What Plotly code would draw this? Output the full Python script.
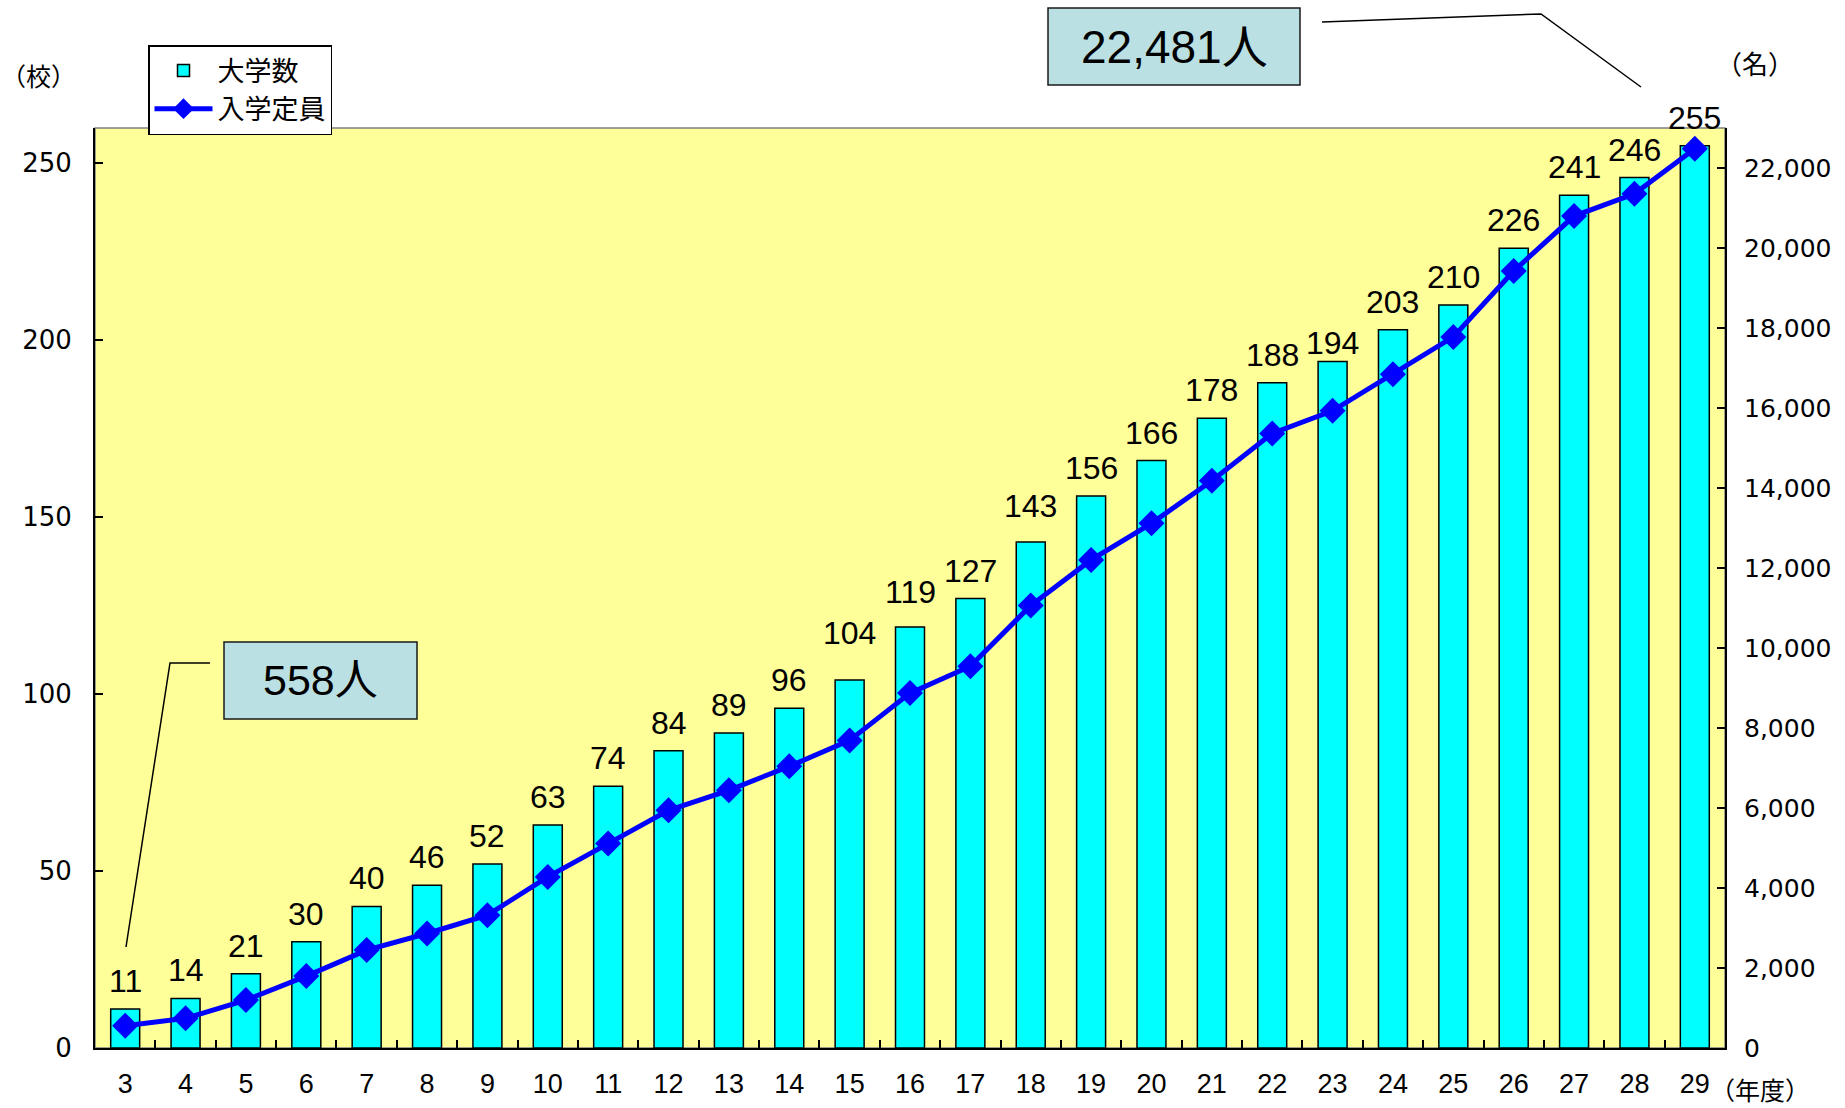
import plotly.graph_objects as go

# ---- data ----
years = ["3", "4", "5", "6", "7", "8", "9", "10", "11", "12", "13", "14", "15", "16",
         "17", "18", "19", "20", "21", "22", "23", "24", "25", "26", "27", "28", "29"]
universities = [11, 14, 21, 30, 40, 46, 52, 63, 74, 84, 89, 96, 104, 119,
                127, 143, 156, 166, 178, 188, 194, 203, 210, 226, 241, 246, 255]
enrollment = [558, 741, 1198, 1798, 2447, 2863, 3321, 4278, 5110, 5943, 6442, 7041, 7690, 8872,
              9546, 11061, 12202, 13117, 14182, 15364, 15930, 16846, 17778, 19426, 20799, 21356, 22481]
bar_name = "大学数"
line_name = "入学定員"
left_unit = "（校）"
right_unit = "（名）"
x_unit = "（年度）"
first_callout = "558人"
last_callout = "22,481人"

# ---- layout geometry (pixels) ----
W, H = 1845, 1108
PL, PR, PT, PB = 95, 1725, 128, 1048


def px(xp):
    return (xp - PL) / (PR - PL)


def py(yp):
    return (PB - yp) / (PB - PT)


CJK = "Noto Sans CJK JP, Noto Sans, sans-serif"
ARIAL = "Liberation Sans, Arial, Noto Sans CJK JP, sans-serif"

fig = go.Figure()
fig.add_trace(go.Bar(
    x=years, y=universities, name=bar_name,
    marker=dict(color="#00FFFF", line=dict(color="#000000", width=1.5)),
    yaxis="y",
))
fig.add_trace(go.Scatter(
    x=years, y=enrollment, name=line_name, mode="lines+markers",
    line=dict(color="#0000FF", width=5),
    marker=dict(symbol="diamond", size=20, color="#0000FF"),
    yaxis="y2",
))

annotations = []
# data labels above bars (small manual nudges as in the original)
nudge = {"15": 19, "16": 7, "18": 8, "23": -9}
for i, (x, v) in enumerate(zip(years, universities)):
    annotations.append(dict(
        x=i, y=v, xref="x", yref="y", text=str(v), showarrow=False,
        xanchor="center", yanchor="middle", yshift=28 + nudge.get(x, 0),
        font=dict(family=ARIAL, size=32, color="#000000"),
    ))


def label(xp, yp, text, family, size):
    return dict(x=px(xp), y=py(yp), xref="paper", yref="paper", text=text, showarrow=False,
                xanchor="center", yanchor="middle", font=dict(family=family, size=size, color="#000"))


# unit labels
annotations += [
    label(39, 75, left_unit, CJK, 25),
    label(1755, 62, right_unit, CJK, 26),
    label(1760, 1089, x_unit, CJK, 25),
]

# callout texts
annotations += [
    label(320, 680, first_callout, ARIAL, 43),
    label(1174, 47, last_callout,
          "Liberation Sans Narrow, Arial Narrow, Liberation Sans, Noto Sans CJK JP, sans-serif", 46),
]

shapes = [
    # plot-area border (gray)
    dict(type="rect", xref="paper", yref="paper", x0=0, x1=1, y0=0, y1=1,
         line=dict(color="#808080", width=1.5), layer="below"),
    # callout boxes
    dict(type="rect", xref="paper", yref="paper", x0=px(224), x1=px(417), y0=py(719), y1=py(642),
         fillcolor="#BAE0E3", line=dict(color="#1a1a1a", width=1.5), layer="below"),
    dict(type="rect", xref="paper", yref="paper", x0=px(1048), x1=px(1300), y0=py(85), y1=py(8),
         fillcolor="#BAE0E3", line=dict(color="#1a1a1a", width=1.5)),
    # leader lines
    dict(type="path", xref="paper", yref="paper",
         path=f"M {px(126)},{py(947)} L {px(170)},{py(663)} L {px(210)},{py(663)}",
         line=dict(color="#000", width=1.5)),
    dict(type="path", xref="paper", yref="paper",
         path=f"M {px(1322)},{py(22)} L {px(1541)},{py(14)} L {px(1641)},{py(87)}",
         line=dict(color="#000", width=1.5)),
]

fig.update_layout(
    width=W, height=H, autosize=False,
    margin=dict(l=PL, r=W - PR, t=PT, b=H - PB, pad=0, autoexpand=False),
    paper_bgcolor="#FFFFFF", plot_bgcolor="#FFFF99",
    bargap=0.52,
    showlegend=True,
    legend=dict(
        x=px(148), y=py(45), xanchor="left", yanchor="top",
        bgcolor="#FFFFFF", bordercolor="#000000", borderwidth=1.5,
        font=dict(family=CJK, size=27, color="#000"),
        traceorder="normal", itemwidth=58, tracegroupgap=0,
    ),
    xaxis=dict(
        type="category", range=[-0.5, len(years) - 0.5],
        showline=True, linecolor="#000", linewidth=2,
        ticks="inside", ticklen=8, tickcolor="#000", tickwidth=1.5, tickson="boundaries",
        tickfont=dict(family=ARIAL, size=27, color="#000"), ticklabelstandoff=11,
        showgrid=False, zeroline=False, fixedrange=True,
    ),
    yaxis=dict(
        range=[0, 260], dtick=50, tick0=0, showline=True, linecolor="#000", linewidth=2,
        ticks="inside", ticklen=8, tickcolor="#000", tickwidth=1.5,
        tickfont=dict(family="DejaVu Sans", size=26, color="#000"), ticklabelstandoff=16,
        showgrid=False, zeroline=False,
    ),
    yaxis2=dict(
        range=[0, 23000], dtick=2000, tick0=0, overlaying="y", side="right", anchor="x",
        showline=True, linecolor="#000", linewidth=2,
        ticks="inside", ticklen=8, tickcolor="#000", tickwidth=1.5, tickformat=",d",
        tickfont=dict(family="DejaVu Sans", size=25, color="#000"), ticklabelstandoff=12,
        showgrid=False, zeroline=False,
    ),
    annotations=annotations,
    shapes=shapes,
)

fig.write_html("out.html", config={"displayModeBar": False},
               post_script="document.body.style.margin='0';")
